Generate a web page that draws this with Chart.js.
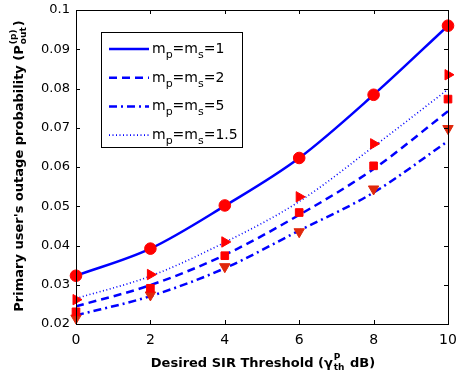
<!DOCTYPE html>
<html>
<head>
<meta charset="utf-8">
<script src="https://cdn.jsdelivr.net/npm/chart.js@4/dist/chart.umd.min.js"></script>
<style>
  html, body { margin: 0; padding: 0; background: #fff; }
  #wrap { width: 457px; height: 380px; position: relative; }
</style>
</head>
<body>
<div id="wrap"><canvas id="c"></canvas></div>
<script>
// valeurs
var sirDb    = [0, 2, 4, 6, 8, 10];
var yTicks   = [0.02, 0.03, 0.04, 0.05, 0.06, 0.07, 0.08, 0.09, 0.1];

// courbes analytiques
var anaM1    = [0.0323, 0.0392, 0.0501, 0.0623, 0.0784, 0.0960];
var anaM2    = [0.0245, 0.0299, 0.0376, 0.0478, 0.0595, 0.0742];
var anaM5    = [0.0222, 0.0271, 0.0342, 0.0438, 0.0535, 0.0666];
var anaM15   = [0.0265, 0.0322, 0.0408, 0.0512, 0.0652, 0.0798];

// points de simulation
var simM1    = [0.0323, 0.0392, 0.0502, 0.0623, 0.0784, 0.0960];
var simM2    = [0.0231, 0.0291, 0.0374, 0.0484, 0.0603, 0.0773];
var simM5    = [0.0215, 0.0274, 0.0346, 0.0435, 0.0544, 0.0698];
var simM15   = [0.0262, 0.0326, 0.0409, 0.0524, 0.0659, 0.0835];

var legendNums = ["1", "2", "5", "1.5"];

var BLUE = "#0000ff";
var RED  = "#ff0000";
var FONT = "'DejaVu Sans', sans-serif";

function pts(ys) {
  return sirDb.map(function(x, i) { return { x: x, y: ys[i] }; });
}

function lineDs(ys, dash, width) {
  return {
    data: pts(ys), showLine: true, borderColor: BLUE, borderWidth: width,
    borderDash: dash, pointRadius: 0, cubicInterpolationMode: "monotone",
    fill: false
  };
}

function markDs(ys, style, rot, radius, color) {
  return {
    data: pts(ys), showLine: false, pointStyle: style, rotation: rot,
    pointRadius: radius, backgroundColor: color, borderColor: color,
    borderWidth: 1, clip: false
  };
}

// cadre, ticks intérieurs, légende et titres des axes
var decorPlugin = {
  id: "decor",
  afterDraw: function(chart) {
    var ctx = chart.ctx, a = chart.chartArea;
    var xs = chart.scales.x, ys = chart.scales.y;
    ctx.save();
    ctx.strokeStyle = "#000";
    ctx.lineWidth = 1;
    ctx.strokeRect(Math.round(a.left) + 0.5, Math.round(a.top) + 0.5,
                   Math.round(a.right - a.left), Math.round(a.bottom - a.top));
    ctx.beginPath();
    sirDb.forEach(function(v) {
      var px = Math.round(xs.getPixelForValue(v)) + 0.5;
      ctx.moveTo(px, a.bottom); ctx.lineTo(px, a.bottom - 4);
      ctx.moveTo(px, a.top);    ctx.lineTo(px, a.top + 4);
    });
    yTicks.forEach(function(v) {
      var py = Math.round(ys.getPixelForValue(v)) + 0.5;
      ctx.moveTo(a.left, py);  ctx.lineTo(a.left + 4, py);
      ctx.moveTo(a.right, py); ctx.lineTo(a.right - 4, py);
    });
    ctx.stroke();

    // légende
    var bx = 101.5, by = 32.5, bw = 141, bh = 115;
    ctx.fillStyle = "#fff";
    ctx.fillRect(bx, by, bw, bh);
    ctx.strokeRect(bx, by, bw, bh);
    var styles = [
      { dash: [], w: 2.5 },
      { dash: [8, 5], w: 2.5 },
      { dash: [8, 4, 2, 4], w: 2.5 },
      { dash: [1, 2.5], w: 1.6 }
    ];
    ctx.fillStyle = "#000";
    ctx.textBaseline = "alphabetic";
    styles.forEach(function(s, i) {
      var cy = 49 + i * 28.7;
      ctx.strokeStyle = BLUE;
      ctx.lineWidth = s.w;
      ctx.setLineDash(s.dash);
      ctx.beginPath();
      ctx.moveTo(109, cy); ctx.lineTo(149, cy);
      ctx.stroke();
      ctx.setLineDash([]);
      var x = 152, base = cy + 4;
      ctx.font = "14px " + FONT;
      ctx.fillText("m", x, base); x += ctx.measureText("m").width;
      ctx.font = "11px " + FONT;
      ctx.fillText("p", x, base + 5); x += ctx.measureText("p").width;
      ctx.font = "14px " + FONT;
      ctx.fillText("=m", x, base); x += ctx.measureText("=m").width;
      ctx.font = "11px " + FONT;
      ctx.fillText("s", x, base + 5); x += ctx.measureText("s").width;
      ctx.font = "14px " + FONT;
      ctx.fillText("=" + legendNums[i], x, base);
    });

    // titre axe x
    var big = "bold 13px " + FONT, small = "bold 9px " + FONT;
    var t1 = "Desired SIR Threshold (\u03b3", t2 = " dB)";
    ctx.font = big;
    var w1 = ctx.measureText(t1).width, w2 = ctx.measureText(t2).width;
    ctx.font = small;
    var ws = Math.max(ctx.measureText("P").width, ctx.measureText("th").width);
    var x0 = 262 - (w1 + ws + w2) / 2, yb = 367;
    ctx.font = big;
    ctx.fillText(t1, x0, yb);
    ctx.font = small;
    ctx.fillText("P", x0 + w1 + 1, yb - 7);
    ctx.fillText("th", x0 + w1 + 1, yb + 3);
    ctx.font = big;
    ctx.fillText(t2, x0 + w1 + ws + 2, yb);

    // titre axe y
    ctx.translate(23, 167);
    ctx.rotate(-Math.PI / 2);
    var s1 = "Primary user's outage probability (P", s2 = ")";
    ctx.font = big;
    var v1 = ctx.measureText(s1).width, v2 = ctx.measureText(s2).width;
    ctx.font = small;
    var vs = Math.max(ctx.measureText("(p)").width, ctx.measureText("out").width);
    var sx = -(v1 + vs + v2) / 2;
    ctx.font = big;
    ctx.fillText(s1, sx, 0);
    ctx.font = small;
    ctx.fillText("(p)", sx + v1 + 1, -7);
    ctx.fillText("out", sx + v1 + 1, 3);
    ctx.font = big;
    ctx.fillText(s2, sx + v1 + vs + 2, 0);
    ctx.restore();
  }
};

Chart.defaults.font.family = FONT;
Chart.defaults.color = "#000";

new Chart(document.getElementById("c"), {
  type: "scatter",
  data: {
    datasets: [
      markDs(simM1, "circle", 0, 5.8, RED),
      markDs(simM2, "rect", 0, 5.4, RED),
      markDs(simM5, "triangle", 180, 6, "#e0280c"),
      markDs(simM15, "triangle", 90, 6, RED),
      lineDs(anaM1, [], 2.5),
      lineDs(anaM2, [8, 5], 2.5),
      lineDs(anaM5, [8, 4, 2, 4], 2.5),
      lineDs(anaM15, [1, 2.5], 1.6)
    ]
  },
  options: {
    responsive: true,
    maintainAspectRatio: false,
    animation: false,
    layout: { padding: { top: 10, right: 9, left: 0, bottom: 0 } },
    plugins: { legend: { display: false }, tooltip: { enabled: false } },
    scales: {
      x: {
        type: "linear", min: 0, max: 10,
        grid: { display: false, drawTicks: false },
        border: { display: false },
        ticks: { stepSize: 2, padding: 8, font: { size: 14 }, color: "#000" },
        afterFit: function(s) {
          s.height = 56; s.paddingLeft = 0; s.paddingRight = 0;
        }
      },
      y: {
        type: "linear", min: 0.02, max: 0.1,
        grid: { display: false, drawTicks: false },
        border: { display: false },
        ticks: {
          stepSize: 0.01, padding: 6, font: { size: 13 }, color: "#000",
          callback: function(v) { return String(+v.toFixed(2)); }
        },
        afterFit: function(s) {
          s.width = 76; s.paddingTop = 0; s.paddingBottom = 0;
        }
      }
    }
  },
  plugins: [decorPlugin]
});
</script>
</body>
</html>
